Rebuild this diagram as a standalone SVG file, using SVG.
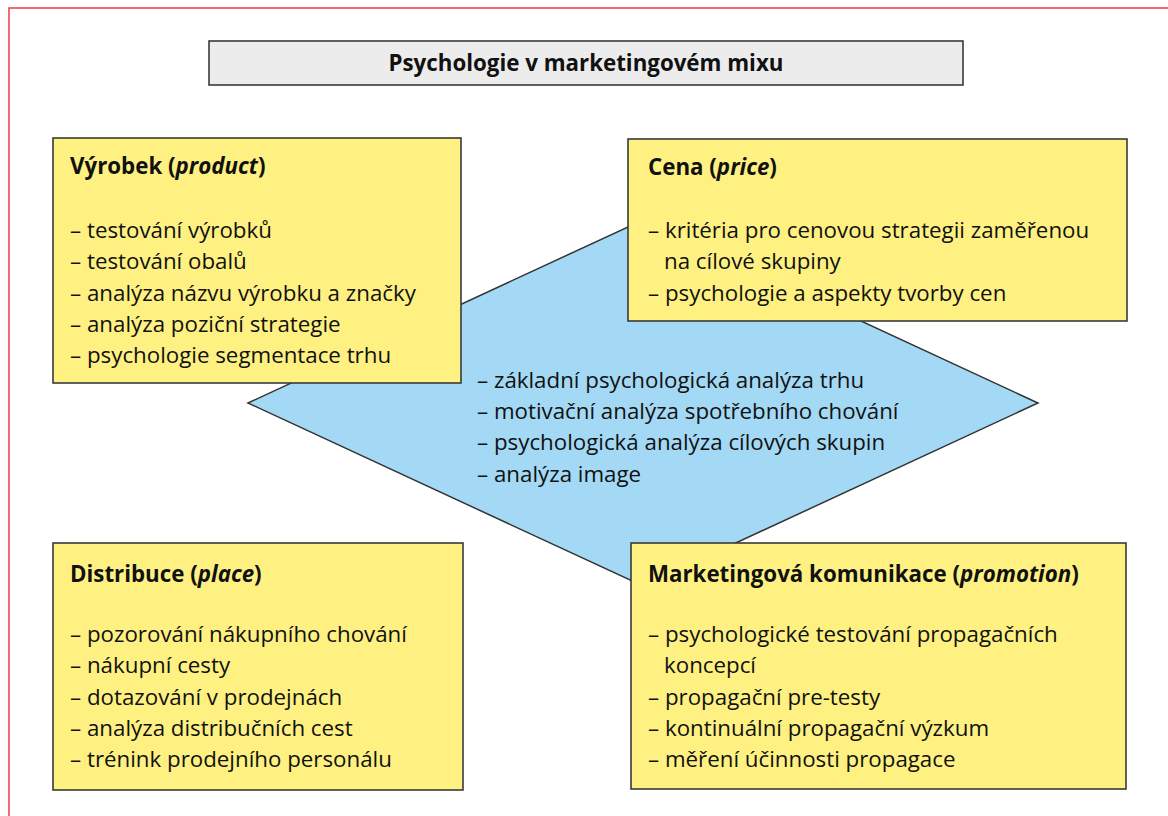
<svg xmlns="http://www.w3.org/2000/svg" width="1168" height="816" viewBox="0 0 1168 816">
<style>
  .frame{fill:none;stroke:#ee3b47;stroke-width:1.5}
  .title-box{fill:#ececec;stroke:#3a3a3a;stroke-width:1.6}
  .box{fill:#fef182;stroke:#3a3a3a;stroke-width:1.6}
  .diamond{fill:#a3d9f5;stroke:#333;stroke-width:1.5}
  text{font-family:"Open Sans","Noto Sans","Liberation Sans",sans-serif;font-size:22.3px;fill:#111}
  .h{font-weight:bold}
  .ttl{font-weight:bold;font-size:22.3px;text-anchor:middle}
</style>
<rect width="1168" height="816" fill="#fff"/>
<rect class="frame" x="9" y="8" width="1200" height="830"/>

<g id="title">
  <rect class="title-box" x="209" y="41" width="754" height="44"/>
  <text class="ttl" x="586" y="71">Psychologie v marketingovém mixu</text>
</g>

<g id="core">
  <polygon class="diamond" points="248,403 643,220 1038,403 643,586"/>
  <text x="477" y="388">– základní psychologická analýza trhu</text>
  <text x="477" y="419">– motivační analýza spotřebního chování</text>
  <text x="477" y="450">– psychologická analýza cílových skupin</text>
  <text x="477" y="482">– analýza image</text>
</g>

<g id="product">
  <rect class="box" x="53" y="138" width="408" height="245"/>
  <text class="h" x="70" y="174">Výrobek (<tspan font-style="italic">product</tspan>)</text>
  <text x="70" y="238">– testování výrobků</text>
  <text x="70" y="269">– testování obalů</text>
  <text x="70" y="301">– analýza názvu výrobku a značky</text>
  <text x="70" y="332">– analýza poziční strategie</text>
  <text x="70" y="363">– psychologie segmentace trhu</text>
</g>

<g id="price">
  <rect class="box" x="628" y="139" width="499" height="182"/>
  <text class="h" x="648" y="175">Cena (<tspan font-style="italic">price</tspan>)</text>
  <text x="648" y="238">– kritéria pro cenovou strategii zaměřenou</text>
  <text x="664" y="269">na cílové skupiny</text>
  <text x="648" y="301">– psychologie a aspekty tvorby cen</text>
</g>

<g id="place">
  <rect class="box" x="53" y="543" width="410" height="247"/>
  <text class="h" x="70" y="582">Distribuce (<tspan font-style="italic">place</tspan>)</text>
  <text x="70" y="642">– pozorování nákupního chování</text>
  <text x="70" y="673">– nákupní cesty</text>
  <text x="70" y="705">– dotazování v prodejnách</text>
  <text x="70" y="736">– analýza distribučních cest</text>
  <text x="70" y="767">– trénink prodejního personálu</text>
</g>

<g id="promotion">
  <rect class="box" x="631" y="543" width="495" height="246"/>
  <text class="h" x="648" y="582">Marketingová komunikace (<tspan font-style="italic">promotion</tspan>)</text>
  <text x="648" y="642">– psychologické testování propagačních</text>
  <text x="664" y="673">koncepcí</text>
  <text x="648" y="705">– propagační pre-testy</text>
  <text x="648" y="736">– kontinuální propagační výzkum</text>
  <text x="648" y="767">– měření účinnosti propagace</text>
</g>
</svg>
